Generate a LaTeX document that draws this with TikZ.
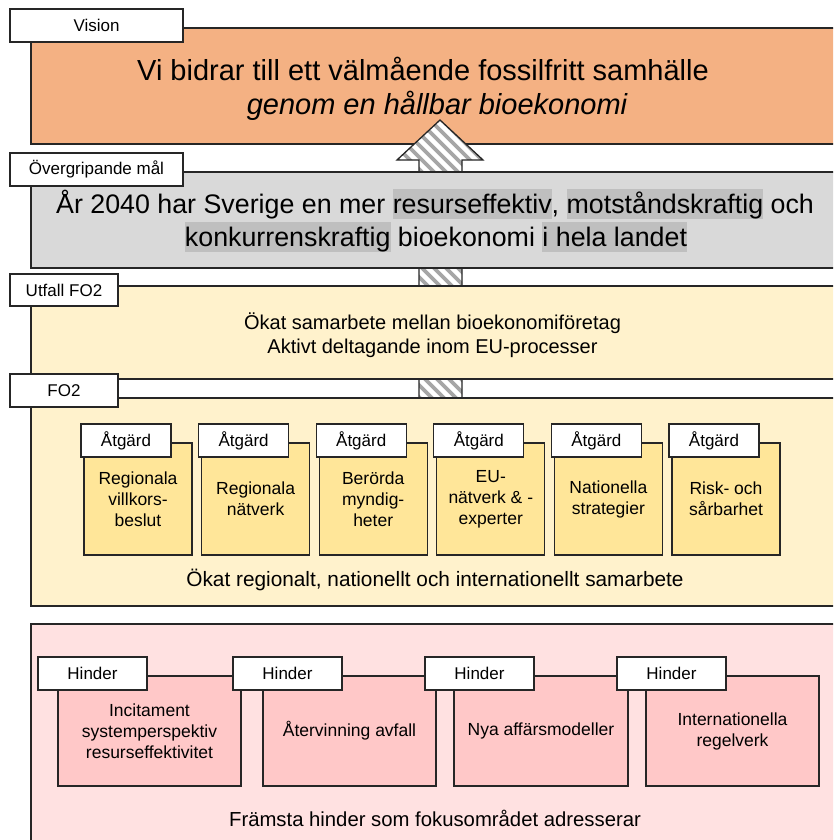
\documentclass[tikz,border=0pt]{standalone}
\usepackage{fontspec}
\setmainfont{Liberation Sans}
\definecolor{edge}{HTML}{262626}
\definecolor{visionfill}{HTML}{F4B183}
\definecolor{goalfill}{HTML}{D9D9D9}
\definecolor{hlgray}{HTML}{BFBFBF}
\definecolor{lightyellow}{HTML}{FFF2CC}
\definecolor{actionfill}{HTML}{FFE699}
\definecolor{pinkbg}{HTML}{FFE1E1}
\definecolor{hinderfill}{HTML}{FFC8C8}
\definecolor{hatchgray}{HTML}{A6A6A6}
\newcommand{\hlw}[1]{{\setlength{\fboxsep}{0pt}\colorbox{hlgray}{\rule[-6pt]{0pt}{30pt}#1}}}
\begin{document}
\begin{tikzpicture}[x=1pt,y=-1pt,
  panel/.style={draw=edge, line width=1.3pt, inner sep=0pt, minimum width=814pt},
  tab/.style={draw=edge, fill=white, line width=1.2pt, inner sep=0pt,
    minimum height=33pt, font=\fontsize{17}{20}\selectfont},
  actionbox/.style={draw=edge, fill=actionfill, line width=1.3pt, inner sep=0pt,
    minimum width=108pt, minimum height=112pt, align=center,
    font=\fontsize{17.5}{21}\selectfont},
  hinderbox/.style={draw=edge, fill=hinderfill, line width=1.3pt, inner sep=0pt,
    minimum height=110pt, align=center, font=\fontsize{17.5}{21}\selectfont},
  bigtext/.style={anchor=base, inner sep=0pt, font=\fontsize{29}{33}\selectfont},
  goaltext/.style={anchor=base, inner sep=0pt, font=\fontsize{26.8}{33}\selectfont},
  midtext/.style={anchor=base, inner sep=0pt, font=\fontsize{20.3}{24}\selectfont},
  hatch/.style={draw=hatchgray, line width=3.6pt},
  arrowline/.style={draw=edge, line width=1.3pt, line join=miter}]
\useasboundingbox (0,0) rectangle (833,840);
\clip (0,0) rectangle (833,840);

% Vision
\node[panel, fill=visionfill, minimum height=116pt] (vision) at (438,86) {};
\node[tab, minimum width=173pt] (visiontab) at (96.5,25.5) {Vision};
\node[bigtext] (vis1) at (423,81) {Vi bidrar till ett välmående fossilfritt samhälle};
\node[bigtext, font=\fontsize{29}{33}\selectfont\itshape] (vis2) at (437,115) {genom en hållbar bioekonomi};

% hatched upward arrow
\coordinate (arrowtip) at (440,120);
\coordinate (arrowfoot) at (440,398);
\begin{scope}
  \clip (419,398) -- (419,160) -- (397,160) -- (arrowtip) -- (483,160) -- (462,160) -- (462,398) -- cycle;
  \fill[white] (390,110) rectangle (490,400);
  \foreach \k in {60,72,...,500} \draw[hatch] (\k,110) -- (\k+300,410);
\end{scope}
\draw[arrowline] (arrowfoot -| 419,0) -- (419,160) -- (397,160) -- (arrowtip) -- (483,160) -- (462,160) -- (arrowfoot -| 462,0);

% Overall goal
\node[panel, fill=goalfill, minimum height=96pt] (goal) at (438,220) {};
\node[tab, minimum width=173pt] (goaltab) at (96.5,169.5) {Övergripande mål};
\node[goaltext] (goal1) at (435,213) {År 2040 har Sverige en mer \hlw{resurseffektiv}, \hlw{motståndskraftig} och};
\node[goaltext] (goal2) at (436,246) {\hlw{konkurrenskraftig} bioekonomi \hlw{i hela landet}};

% Outcome
\node[panel, fill=lightyellow, minimum height=93pt] (outcome) at (438,332.5) {};
\node[tab, minimum width=108pt, minimum height=32pt] (outcometab) at (64,290) {Utfall FO2};
\node[midtext, font=\fontsize{20}{24}\selectfont] (out1) at (432.5,329) {Ökat samarbete mellan bioekonomiföretag};
\node[midtext, font=\fontsize{20}{24}\selectfont] (out2) at (432.5,353) {Aktivt deltagande inom EU-processer};

% Focus area with actions
\node[panel, fill=lightyellow, minimum height=208pt] (focus) at (438,502) {};
\node[tab, minimum width=108pt] (focustab) at (64,390.5) {FO2};

\foreach \i/\txt in {0/{Regionala\\villkors-\\beslut},
                     1/{Regionala\\nätverk},
                     2/{Berörda\\myndig-\\heter},
                     3/{EU-\\nätverk \& -\\experter},
                     4/{Nationella\\strategier},
                     5/{Risk- och\\sårbarhet}} {
  \pgfmathsetmacro{\bx}{84+117.6*\i}
  \node[actionbox] (act\i) at (\bx+54,499) {\txt};
  \node[tab, minimum width=90pt] (acttab\i) at (\bx+42,440.5) {Åtgärd};
}
\node[midtext, font=\fontsize{20.8}{24}\selectfont] (focustext) at (435,586) {Ökat regionalt, nationellt och internationellt samarbete};

% Barriers
\node[panel, fill=pinkbg, minimum height=226pt] (barriers) at (438,737) {};
\node[hinderbox, minimum width=183pt] (hin0) at (149.5,731) {Incitament\\systemperspektiv\\resurseffektivitet};
\node[tab, minimum width=109pt] (hintab0) at (92.5,673.5) {Hinder};
\node[hinderbox, minimum width=173pt] (hin1) at (349.5,731) {Återvinning avfall};
\node[tab, minimum width=109pt] (hintab1) at (287.5,673.5) {Hinder};
\node[hinderbox, minimum width=174pt] (hin2) at (541,731) {Nya affärsmodeller};
\node[tab, minimum width=109pt] (hintab2) at (479.5,673.5) {Hinder};
\node[hinderbox, minimum width=173pt] (hin3) at (732.5,731) {Internationella\\regelverk};
\node[tab, minimum width=109pt] (hintab3) at (671.5,673.5) {Hinder};
\node[midtext] (barriertext) at (435,826) {Främsta hinder som fokusområdet adresserar};
\end{tikzpicture}
\end{document}
